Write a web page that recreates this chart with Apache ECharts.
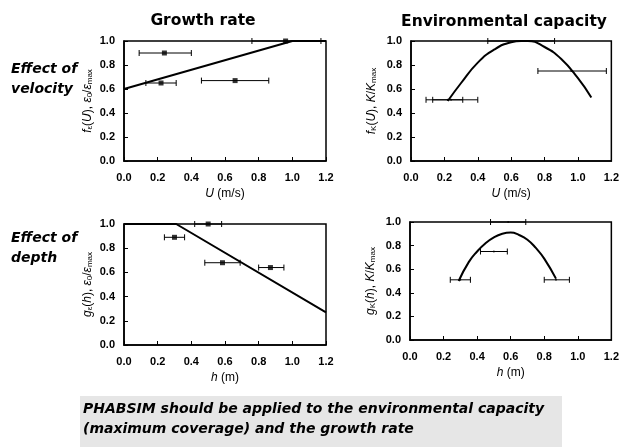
<!DOCTYPE html>
<html>
<head>
<meta charset="utf-8">
<script src="https://cdn.jsdelivr.net/npm/echarts@6/dist/echarts.min.js"></script>
<style>html,body{margin:0;padding:0;background:#fff}#c{width:622px;height:447px}</style>
</head>
<body>
<div id="c"></div>
<script>
// ---- data ----
var xTicks = [0.0, 0.2, 0.4, 0.6, 0.8, 1.0, 1.2];
var yTicks = [0.0, 0.2, 0.4, 0.6, 0.8, 1.0];

// velocity samples (mean, low, high)
var velMean = [0.24, 0.22, 0.66, 0.96];
var velLow  = [0.09, 0.13, 0.46, 0.76];
var velHigh = [0.40, 0.31, 0.86, 1.17];
var velGrowth   = [0.90, 0.65, 0.67, 1.00];
var velCapacity = [0.51, 0.51, 1.00, 0.75];

// depth samples
var depMean = [0.30, 0.50, 0.585, 0.87];
var depLow  = [0.24, 0.42, 0.48, 0.80];
var depHigh = [0.36, 0.58, 0.69, 0.95];
var depGrowth   = [0.89, 1.00, 0.68, 0.64];
var depCapacity = [0.51, 0.75, 1.00, 0.51];

// fitted curves
var velGrowthLineX = [0.0, 1.0, 1.2];
var velGrowthLineY = [0.60, 1.00, 1.00];
var velCapCurveX = [0.22, 0.30, 0.40, 0.50, 0.60, 0.66, 0.70, 0.80, 0.90, 1.00, 1.08];
var velCapCurveY = [0.50, 0.65, 0.82, 0.93, 0.99, 1.00, 1.00, 0.95, 0.85, 0.69, 0.53];
var depGrowthLineX = [0.0, 0.31, 1.2];
var depGrowthLineY = [1.00, 1.00, 0.27];
var depCapCurveX = [0.29, 0.35, 0.40, 0.45, 0.50, 0.55, 0.60, 0.65, 0.70, 0.75, 0.80, 0.87];
var depCapCurveY = [0.50, 0.66, 0.75, 0.82, 0.87, 0.90, 0.91, 0.89, 0.85, 0.78, 0.69, 0.52];

function zip(a, b) { return a.map(function (v, i) { return [v, b[i]]; }); }
function errData(lo, hi, y) { return lo.map(function (v, i) { return [v, hi[i], y[i]]; }); }

var FONT = 'Liberation Sans, Arial, Helvetica, sans-serif';
var HEAVY = 'DejaVu Sans, Verdana, sans-serif';

var grids = [
  {left: 124, top: 41, width: 202, height: 120},
  {left: 411, top: 41, width: 202, height: 120},
  {left: 124, top: 224, width: 202, height: 121},
  {left: 410, top: 222, width: 202, height: 118}
].map(function (g) {
  g.show = true; g.borderColor = '#000'; g.borderWidth = 1.5; g.backgroundColor = 'transparent';
  return g;
});

var richName = {
  n: {fontSize: 12, fontFamily: FONT, color: '#000'},
  i: {fontSize: 12, fontStyle: 'italic', fontFamily: FONT, color: '#000'},
  s: {fontSize: 8, fontFamily: FONT, color: '#000', padding: [5, 0, 0, 0]},
  si: {fontSize: 8, fontStyle: 'italic', fontFamily: FONT, color: '#000', padding: [5, 0, 0, 0]}
};

function xAxis(idx, name) {
  return {
    type: 'value', gridIndex: idx, min: 0, max: 1.2, interval: 0.2,
    name: name, nameLocation: 'middle', nameGap: 27,
    nameTextStyle: {rich: richName},
    axisLine: {show: true, lineStyle: {color: '#000', width: 1.5}},
    axisTick: {show: true, inside: true, length: 4, lineStyle: {color: '#000'}},
    axisLabel: {
      color: '#000', fontWeight: 'bold', fontSize: 11, fontFamily: FONT, margin: 11,
      formatter: function (v) { return v.toFixed(1); }
    },
    splitLine: {show: false}
  };
}
function yAxis(idx, name, gap) {
  return {
    type: 'value', gridIndex: idx, min: 0, max: 1.0, interval: 0.2,
    name: name, nameLocation: 'middle', nameGap: gap, nameRotate: 90,
    nameTextStyle: {rich: richName},
    axisLine: {show: true, lineStyle: {color: '#000', width: 1.5}},
    axisTick: {show: true, inside: true, length: 4, lineStyle: {color: '#000'}},
    axisLabel: {
      color: '#000', fontWeight: 'bold', fontSize: 11, fontFamily: FONT, margin: 9,
      formatter: function (v) { return v.toFixed(1); }
    },
    splitLine: {show: false}
  };
}

function errSeries(idx, data) {
  return {
    type: 'custom', xAxisIndex: idx, yAxisIndex: idx, data: data,
    encode: {x: [0, 1], y: 2},
    renderItem: function (params, api) {
      var p1 = api.coord([api.value(0), api.value(2)]);
      var p2 = api.coord([api.value(1), api.value(2)]);
      var h = 3;
      var st = {stroke: '#000', lineWidth: 1};
      return {
        type: 'group',
        children: [
          {type: 'line', shape: {x1: p1[0], y1: p1[1], x2: p2[0], y2: p2[1]}, style: st},
          {type: 'line', shape: {x1: p1[0], y1: p1[1] - h, x2: p1[0], y2: p1[1] + h}, style: st},
          {type: 'line', shape: {x1: p2[0], y1: p2[1] - h, x2: p2[0], y2: p2[1] + h}, style: st}
        ]
      };
    },
    z: 3
  };
}
function lineSeries(idx, data, smooth) {
  return {
    type: 'line', xAxisIndex: idx, yAxisIndex: idx, data: data, smooth: smooth,
    showSymbol: false, lineStyle: {color: '#000', width: 2}, z: 4
  };
}
function pointSeries(idx, data, sym, size) {
  return {
    type: 'scatter', xAxisIndex: idx, yAxisIndex: idx, data: data,
    symbol: sym, symbolSize: size, itemStyle: {color: '#000'}, z: 5
  };
}

var titleStyle = {fontSize: 15.5, fontWeight: 'bold', fontFamily: HEAVY, fill: '#000'};
var rowStyle = {fontSize: 14, fontWeight: 'bold', fontStyle: 'italic', fontFamily: HEAVY, fill: '#000', lineHeight: 20};

var option = {
  backgroundColor: '#fff',
  animation: false,
  grid: grids,
  xAxis: [
    xAxis(0, '{i|U} {n|(m/s)}'),
    xAxis(1, '{i|U} {n|(m/s)}'),
    xAxis(2, '{i|h} {n|(m)}'),
    xAxis(3, '{i|h} {n|(m)}')
  ],
  yAxis: [
    yAxis(0, '{i|f}{s|ε}{n|(}{i|U}{n|), }{i|ε}{s|0}{n|/}{i|ε}{s|max}', 30),
    yAxis(1, '{i|f}{s|K}{n|(}{i|U}{n|), }{i|K}{n|/}{i|K}{s|max}', 33),
    yAxis(2, '{i|g}{s|ε}{n|(}{i|h}{n|), }{i|ε}{s|0}{n|/}{i|ε}{s|max}', 30),
    yAxis(3, '{i|g}{s|K}{n|(}{i|h}{n|), }{i|K}{n|/}{i|K}{s|max}', 33)
  ],
  series: [
    lineSeries(0, zip(velGrowthLineX, velGrowthLineY), false),
    errSeries(0, errData(velLow, velHigh, velGrowth)),
    pointSeries(0, zip(velMean, velGrowth), 'rect', 5),

    lineSeries(1, zip(velCapCurveX, velCapCurveY), true),
    errSeries(1, errData(velLow, velHigh, velCapacity)),
    pointSeries(1, zip(velMean, velCapacity), 'circle', 2),

    lineSeries(2, zip(depGrowthLineX, depGrowthLineY), false),
    errSeries(2, errData(depLow, depHigh, depGrowth)),
    pointSeries(2, zip(depMean, depGrowth), 'rect', 5),

    lineSeries(3, zip(depCapCurveX, depCapCurveY), true),
    errSeries(3, errData(depLow, depHigh, depCapacity)),
    pointSeries(3, zip(depMean, depCapacity), 'circle', 2)
  ],
  graphic: [
    {type: 'rect', shape: {x: 80, y: 396, width: 482, height: 51}, style: {fill: '#e6e6e6'}, z: 0},
    {type: 'text', x: 203, y: 21, style: Object.assign({text: 'Growth rate', textAlign: 'center', textVerticalAlign: 'middle'}, titleStyle)},
    {type: 'text', x: 504, y: 22, style: Object.assign({text: 'Environmental capacity', textAlign: 'center', textVerticalAlign: 'middle'}, titleStyle)},
    {type: 'text', x: 11, y: 59, style: Object.assign({text: 'Effect of\nvelocity', textAlign: 'left', textVerticalAlign: 'top'}, rowStyle)},
    {type: 'text', x: 11, y: 228, style: Object.assign({text: 'Effect of\ndepth', textAlign: 'left', textVerticalAlign: 'top'}, rowStyle)},
    {type: 'text', x: 83, y: 399, z: 2, style: Object.assign({
      text: 'PHABSIM should be applied to the environmental capacity\n(maximum coverage) and the growth rate',
      textAlign: 'left', textVerticalAlign: 'top'}, rowStyle)}
  ]
};

var chart = echarts.init(document.getElementById('c'), null, {renderer: 'canvas'});
chart.setOption(option);
</script>
</body>
</html>
